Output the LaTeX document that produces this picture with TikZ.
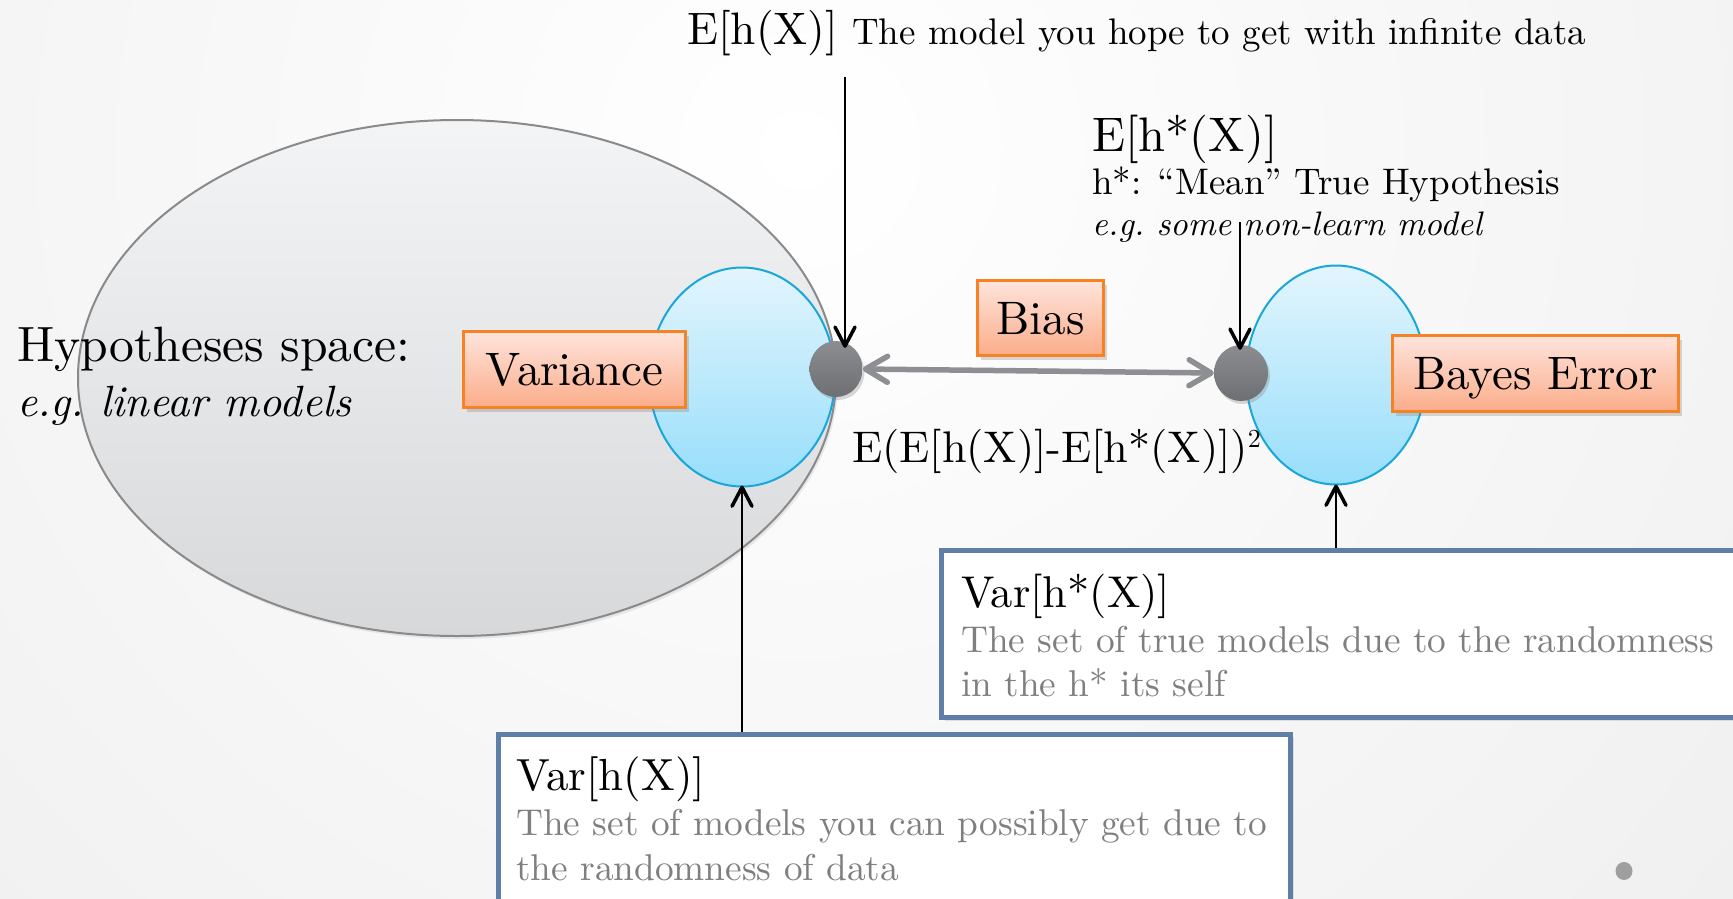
\documentclass[tikz,border=0pt]{standalone}
\usepackage{fontspec}
\setmainfont{lmroman10-regular.otf}[ItalicFont=lmroman10-italic.otf, BoldFont=lmroman10-bold.otf]
\usetikzlibrary{shapes.geometric,arrows.meta,shadows,calc}

\definecolor{orTop}{HTML}{FEE4DC}
\definecolor{orBot}{HTML}{FBAD8A}
\definecolor{orEdge}{HTML}{F68223}
\definecolor{blTop}{HTML}{E3F5FD}
\definecolor{blBot}{HTML}{97DEFB}
\definecolor{blEdge}{HTML}{19A7D9}
\definecolor{spTop}{HTML}{F3F4F5}
\definecolor{spBot}{HTML}{D7D8DA}
\definecolor{spEdge}{HTML}{8A8A8A}
\definecolor{dotTop}{HTML}{8C8D90}
\definecolor{dotBot}{HTML}{6E6F72}
\definecolor{arrGray}{HTML}{8E8F92}
\definecolor{frameBlue}{HTML}{5F7FA6}
\definecolor{noteGray}{HTML}{7F7F7F}

\newcommand\fsz[1]{\fontsize{#1}{#1}\selectfont}
\newcommand\sqmark{\raisebox{0.33em}{\fsz{26}2}}

\begin{document}
\begin{tikzpicture}[x=1pt,y=-1pt,
  txt/.style={inner sep=0pt, anchor=base west},
  space/.style={ellipse, draw=spEdge, line width=2pt, top color=spTop, bottom color=spBot,
    inner sep=0pt, drop shadow={opacity=0.15, shadow xshift=2pt, shadow yshift=-3pt}},
  blob/.style={ellipse, draw=blEdge, line width=2pt, top color=blTop, bottom color=blBot, inner sep=0pt},
  point/.style={ellipse, top color=dotTop, bottom color=dotBot, inner sep=0pt,
    drop shadow={opacity=0.3, shadow xshift=2pt, shadow yshift=-3pt}},
  tag/.style={rectangle, draw=orEdge, line width=3pt, top color=orTop, bottom color=orBot,
    inner sep=0pt, font=\fsz{47}, text height=32pt, text depth=0pt,
    drop shadow={opacity=0.3, shadow xshift=3pt, shadow yshift=-4pt}},
  frame/.style={rectangle, draw=frameBlue, line width=5pt, fill=white, inner sep=0pt,
    drop shadow={opacity=0.2, shadow xshift=3pt, shadow yshift=-3pt}},
  pointer/.style={line width=1.5pt, -{Straight Barb[length=19pt, width=20pt, line width=3.5pt, round]}},
  span/.style={draw=arrGray, line width=5.5pt, line cap=round,
    {Straight Barb[length=22pt, width=26pt, round]}-{Straight Barb[length=22pt, width=26pt, round]}},
]
\useasboundingbox (0,0) rectangle (1733,898);
\begin{scope}
\clip (0,0) rectangle (1733,898);
% slide background: white in the upper middle, grey towards the edges
\shade[inner color=white, outer color=gray!19] (-1150,-1750) rectangle (2750,2050);

% hypothesis space and the two model sets
\node[space, minimum width=758pt, minimum height=516pt] (hspace) at (457,378) {};
\node[blob, minimum width=186pt, minimum height=219pt] (varell) at (742,377) {};
\node[blob, minimum width=180pt, minimum height=219pt] (bayesell) at (1336,375) {};

% expected models
\node[point, minimum width=53pt, minimum height=56pt] (dotL) at (836,369) {};
\node[point, minimum width=54pt, minimum height=56pt] (dotR) at (1241,373) {};

% labels
\node[tag, minimum width=222pt, minimum height=76pt] (variance) at (574.5,369.5) {Variance};
\node[tag, minimum width=126pt, minimum height=75pt] (bias) at (1040.5,318) {Bias};
\node[tag, minimum width=286pt, minimum height=76pt] (bayes) at (1535.5,373.5) {Bayes Error};

% bias arrow
\draw[span] (dotL.east) -- (dotR.west);

% texts
\node[txt, font=\fsz{45.5}] (eh) at (687,44) {E[h(X)]};
\node[txt, font=\fsz{37}] (ehnote) at (852,44) {The model you hope to get with infinite data};
\node[txt, font=\fsz{48.5}] (ehs) at (1092,151) {E[h*(X)]};
\node[txt, font=\fsz{37}] (hsdef) at (1092,194) {h*: “Mean” True Hypothesis};
\node[txt, font=\itshape\fsz{34}] (hseg) at (1092,235) {e.g.\ some non-learn model};
\node[txt, font=\fsz{49.6}] (hyp) at (17,361) {Hypotheses space:};
\node[txt, font=\itshape\fsz{43.8}] (hypeg) at (17,416) {e.g.\ linear models};
\node[txt, font=\fsz{44.3}] (biasf) at (852,462) {E(E[h(X)]-E[h*(X)])\sqmark};

% pointers from the top texts
\coordinate (ehfoot) at (845,77);
\coordinate (hsfoot) at (1240,222);
\draw[pointer, shorten >=-7pt] (ehfoot) -- (ehfoot |- dotL.north);
\draw[pointer, shorten >=-5pt] (hsfoot) -- (hsfoot |- dotR.north);

% variance boxes
\node[frame, minimum width=858.5pt, minimum height=167pt] (varhs) at (1370.75,634) {};
\node[frame, minimum width=792pt, minimum height=265.5pt] (varh) at (894.5,867) {};

\draw[pointer, shorten >=-2pt] (varh.north -| varell.south) -- (varell.south);
\draw[pointer, shorten >=-1pt] (varhs.north -| bayesell.south) -- (bayesell.south);

\node[txt, font=\fsz{44.5}] (varhstitle) at (961,607) {Var[h*(X)]};
\node[txt, font=\fsz{37.3}, text=noteGray] (varhsl1) at (961,652) {The set of true models due to the randomness};
\node[txt, font=\fsz{37.3}, text=noteGray] (varhsl2) at (961,696) {in the h* its self};

\node[txt, font=\fsz{45}] (varhtitle) at (516,790) {Var[h(X)]};
\node[txt, font=\fsz{37.3}, text=noteGray] (varhl1) at (516,835) {The set of models you can possibly get due to};
\node[txt, font=\fsz{37.3}, text=noteGray] (varhl2) at (516,880) {the randomness of data};

% slide marker
\node[ellipse, fill=gray!75, minimum width=17pt, minimum height=18pt, inner sep=0pt] (marker) at (1624,871) {};
\end{scope}
\end{tikzpicture}
\end{document}
